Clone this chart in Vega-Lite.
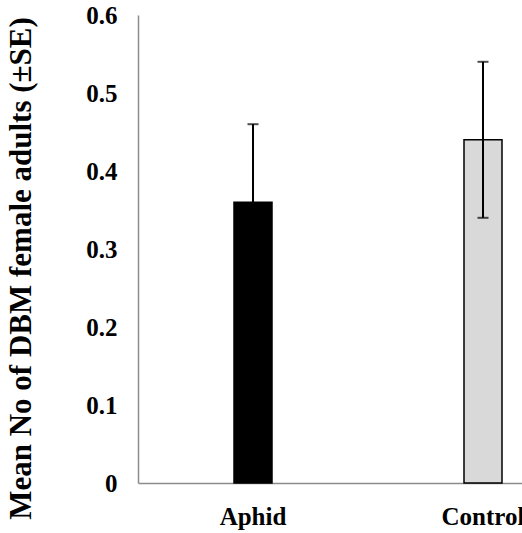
{
  "$schema": "https://vega.github.io/schema/vega-lite/v6.json",
  "autosize": {"type": "none"},
  "padding": {"left": 138, "top": 15, "right": 0, "bottom": 50},
  "width": 460,
  "height": 468,
  "background": "white",
  "config": {
    "view": {"stroke": null},
    "font": "Liberation Serif",
    "axis": {
      "grid": false,
      "ticks": false,
      "domainColor": "#8c8c8c",
      "domainWidth": 1.5,
      "labelFont": "Liberation Serif",
      "labelFontWeight": "bold",
      "labelColor": "black",
      "labelFontSize": 25,
      "titleFont": "Liberation Serif",
      "titleFontWeight": "bold",
      "titleColor": "black"
    },
    "axisX": {"labelPadding": 21, "labelAngle": 0},
    "axisY": {
      "labelPadding": 21,
      "titleFontSize": 31,
      "titlePadding": 48,
      "titleY": 253
    }
  },
  "data": {
    "values": [
      {"treatment": "Aphid", "mean": 0.36, "lo": 0.26, "hi": 0.46},
      {"treatment": "Control", "mean": 0.44, "lo": 0.34, "hi": 0.54}
    ]
  },
  "encoding": {
    "x": {
      "field": "treatment",
      "type": "nominal",
      "sort": ["Aphid", "Control"],
      "scale": {"paddingInner": 0, "paddingOuter": 0},
      "axis": {"title": null}
    }
  },
  "layer": [
    {
      "mark": {"type": "bar", "width": 38, "stroke": "black", "strokeWidth": 1.5},
      "encoding": {
        "y": {
          "field": "mean",
          "type": "quantitative",
          "title": "Mean No of DBM female adults (±SE)",
          "scale": {"domain": [0, 0.6], "nice": false},
          "axis": {
            "values": [0, 0.1, 0.2, 0.3, 0.4, 0.5, 0.6],
            "labelExpr": "datum.value == 0 ? '0' : format(datum.value, '.1f')"
          }
        },
        "fill": {
          "field": "treatment",
          "type": "nominal",
          "scale": {"domain": ["Aphid", "Control"], "range": ["#000000", "#d9d9d9"]},
          "legend": null
        }
      }
    },
    {
      "mark": {
        "type": "errorbar",
        "color": "black",
        "thickness": 2,
        "ticks": {"size": 11, "thickness": 2, "color": "black"}
      },
      "encoding": {
        "y": {"field": "lo", "type": "quantitative", "title": "Mean No of DBM female adults (±SE)"},
        "y2": {"field": "hi"}
      }
    }
  ]
}
